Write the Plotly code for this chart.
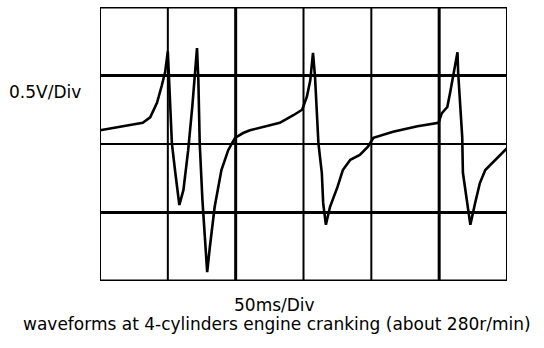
import plotly.graph_objects as go

# Time (ms) and voltage (V) samples
time_ms = [0, 15, 31.5, 37, 42, 45.5, 48, 50, 53, 55.5, 58.5, 61.5, 65, 68, 70.5, 71.5,
           72.5, 73.5, 75.5, 77.5, 79, 81, 84.5, 89.5, 94.5, 99.5, 105.5, 110.5, 132.5,
           142.5, 149, 152.5, 155, 157, 158.5, 161, 163.5, 164.5, 166.5, 169.5, 175, 179,
           184.5, 191.5, 197.5, 201.5, 206.5, 216, 234, 249.5, 252, 256, 258, 260.5, 263.5,
           264, 267, 267.5, 270.5, 273, 276.5, 280, 284, 290, 296.5, 300]
volts = [0.10, 0.125, 0.155, 0.195, 0.30, 0.425, 0.525, 0.675, 0.005, -0.21, -0.445, -0.335,
         -0.045, 0.27, 0.615, 0.70, 0.465, 0.005, -0.41, -0.75, -0.935, -0.75, -0.46, -0.19,
         -0.045, 0.045, 0.08, 0.10, 0.155, 0.21, 0.25, 0.345, 0.465, 0.665, 0.49, 0.005,
         -0.21, -0.43, -0.59, -0.46, -0.315, -0.19, -0.115, -0.08, -0.02, 0.045, 0.06, 0.09,
         0.13, 0.155, 0.225, 0.27, 0.37, 0.52, 0.67, 0.52, 0.05, -0.21, -0.43, -0.59, -0.43,
         -0.285, -0.19, -0.13, -0.065, -0.03]

# Graticule
x_grid = [0, 50, 100, 150, 200, 250, 300]
x_grid_w = [2, 2, 3, 2, 2, 3, 2]
y_grid = [-1, -0.5, 0, 0.5, 1]
y_grid_w = [3, 3, 2, 3, 3]

volt_label = "0.5V/Div"
time_label = "50ms/Div"
caption = "waveforms at 4-cylinders engine cranking (about 280r/min)"

W, H = 544, 348
FONT = "DejaVu Sans, Liberation Sans, Arial, sans-serif"

fig = go.Figure()
fig.add_trace(go.Scatter(x=time_ms, y=volts, mode="lines",
                         line=dict(color="black", width=2.6), hoverinfo="skip",
                         showlegend=False))

shapes = []
for xv, w in zip(x_grid, x_grid_w):
    shapes.append(dict(type="line", xref="x", yref="y", x0=xv, x1=xv,
                       y0=y_grid[0], y1=y_grid[-1], line=dict(color="black", width=w),
                       layer="below"))
for yv, w in zip(y_grid, y_grid_w):
    shapes.append(dict(type="line", xref="x", yref="y", x0=x_grid[0], x1=x_grid[-1],
                       y0=yv, y1=yv, line=dict(color="black", width=w), layer="below"))

annotations = [
    dict(text=volt_label, xref="paper", yref="paper", x=7 / W, y=1 - 92 / H,
         xanchor="left", yanchor="middle", showarrow=False,
         font=dict(family=FONT, size=17, color="black")),
    dict(text=time_label, xref="paper", yref="paper", x=274 / W, y=1 - 304.5 / H,
         xanchor="center", yanchor="middle", showarrow=False,
         font=dict(family=FONT, size=17, color="black")),
    dict(text=caption, xref="paper", yref="paper", x=276.5 / W, y=1 - 324 / H,
         xanchor="center", yanchor="middle", showarrow=False,
         font=dict(family=FONT, size=17, color="black")),
]

fig.update_layout(
    width=W, height=H, margin=dict(l=0, r=0, t=0, b=0),
    paper_bgcolor="white", plot_bgcolor="white",
    xaxis=dict(domain=[100 / W, 507 / W], range=[0, 300], showgrid=False,
               zeroline=False, showticklabels=False, ticks="", fixedrange=True),
    yaxis=dict(domain=[1 - 281 / H, 1 - 7 / H], range=[-1, 1], showgrid=False,
               zeroline=False, showticklabels=False, ticks="", fixedrange=True),
    shapes=shapes, annotations=annotations,
)

fig.write_html("out.html", config={"displayModeBar": False})
